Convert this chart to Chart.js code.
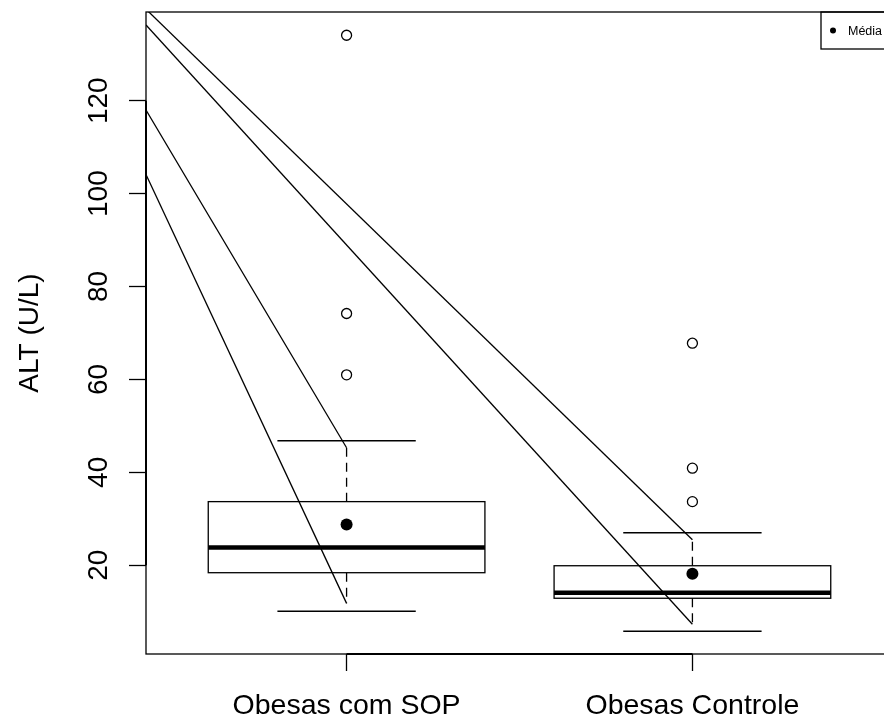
<!DOCTYPE html>
<html>
<head>
<meta charset="utf-8">
<title>ALT (U/L)</title>
<script src="https://cdn.jsdelivr.net/npm/chart.js@4/dist/chart.umd.min.js"></script>
<style>
    html, body { margin: 0; padding: 0; background: #fff; overflow: hidden; }
    #wrap { position: relative; width: 900px; height: 725px; }
</style>
</head>
<body>
<div id="wrap"><canvas id="altChart"></canvas></div>
<script>
// Groups on the x axis
const categories = ['Obesas com SOP', 'Obesas Controle'];

// Box statistics per group (U/L)
const q1 = [18.4, 12.9];
const medians = [23.8, 14.1];
const q3 = [33.7, 19.9];
const whiskerLow = [10.1, 5.8];
const whiskerHigh = [46.8, 27.0];
const whiskerDashLow = [11.8, 7.3];
const whiskerDashHigh = [45.3, 25.5];
const means = [28.8, 18.2];

// Outliers per group
const outliersSop = [61.0, 74.2, 134.1];
const outliersControle = [33.7, 40.9, 67.8];

// Straight segments from the left edge down to the whisker ends
const diagStartY = [139.7, 136.3, 118.0, 104.1];
const diagEndX = [2, 2, 1, 1];
const diagEndY = [25.5, 7.3, 45.3, 11.8];

const yTicks = [20, 40, 60, 80, 100, 120];
const meanLabel = 'Média';
const yTitle = 'ALT (U/L)';

const X_MIN = 0.42, X_MAX = 2.58;
const Y_MIN = 0.9, Y_MAX = 139.1;
const BOX_HALF = 0.4, CAP_HALF = 0.2;
const FONT = '"Liberation Sans", Arial, Helvetica, sans-serif';

const outlierGroups = [outliersSop, outliersControle];

const diagSets = diagStartY.map((y0, i) => ({
    type: 'line',
    data: [{ x: X_MIN, y: y0 }, { x: diagEndX[i], y: diagEndY[i] }],
    borderColor: '#000',
    borderWidth: 1.3,
    pointRadius: 0,
    showLine: true,
    fill: false
}));

const outlierSet = {
    type: 'scatter',
    data: outlierGroups.flatMap((vals, i) => vals.map(v => ({ x: i + 1, y: v }))),
    pointStyle: 'circle',
    pointRadius: 5,
    pointBorderWidth: 1.3,
    borderColor: '#000',
    backgroundColor: 'rgba(0,0,0,0)'
};

const meanSet = {
    type: 'scatter',
    data: means.map((v, i) => ({ x: i + 1, y: v })),
    pointStyle: 'circle',
    pointRadius: 6,
    pointBorderWidth: 0,
    borderColor: '#000',
    backgroundColor: '#000'
};

// Boxes, whiskers, frame, rotated y labels and the legend
const boxPlugin = {
    id: 'boxes',
    beforeDatasetsDraw(chart) {
        const { ctx, scales: { x, y } } = chart;
        ctx.save();
        ctx.strokeStyle = '#000';
        categories.forEach((c, i) => {
            const cx = x.getPixelForValue(i + 1);
            const l = x.getPixelForValue(i + 1 - BOX_HALF);
            const r = x.getPixelForValue(i + 1 + BOX_HALF);
            const cl = x.getPixelForValue(i + 1 - CAP_HALF);
            const cr = x.getPixelForValue(i + 1 + CAP_HALF);

            // dashed whiskers
            ctx.lineWidth = 1.3;
            ctx.setLineDash([9, 6]);
            ctx.beginPath();
            ctx.moveTo(cx, y.getPixelForValue(q3[i]));
            ctx.lineTo(cx, y.getPixelForValue(whiskerDashHigh[i]));
            ctx.moveTo(cx, y.getPixelForValue(q1[i]));
            ctx.lineTo(cx, y.getPixelForValue(whiskerDashLow[i]));
            ctx.stroke();
            ctx.setLineDash([]);

            // caps
            ctx.beginPath();
            [whiskerHigh[i], whiskerLow[i]].forEach(v => {
                const py = y.getPixelForValue(v);
                ctx.moveTo(cl, py);
                ctx.lineTo(cr, py);
            });
            ctx.stroke();

            // box
            const top = y.getPixelForValue(q3[i]);
            const bot = y.getPixelForValue(q1[i]);
            ctx.strokeRect(l, top, r - l, bot - top);

            // median
            ctx.lineWidth = 4.5;
            ctx.beginPath();
            const my = y.getPixelForValue(medians[i]);
            ctx.moveTo(l, my);
            ctx.lineTo(r, my);
            ctx.stroke();
        });
        ctx.restore();
    },
    afterDraw(chart) {
        const { ctx, chartArea: a, scales: { x, y } } = chart;
        ctx.save();
        ctx.strokeStyle = '#000';
        ctx.fillStyle = '#000';

        // plot frame
        ctx.lineWidth = 1.3;
        ctx.strokeRect(a.left, a.top, a.right - a.left, a.bottom - a.top);

        // axis lines between first and last tick
        ctx.lineWidth = 2;
        ctx.beginPath();
        ctx.moveTo(a.left, y.getPixelForValue(yTicks[0]));
        ctx.lineTo(a.left, y.getPixelForValue(yTicks[yTicks.length - 1]));
        ctx.moveTo(x.getPixelForValue(1), a.bottom);
        ctx.lineTo(x.getPixelForValue(categories.length), a.bottom);
        ctx.stroke();

        // y tick labels, parallel to the axis
        ctx.font = '28px ' + FONT;
        ctx.textAlign = 'center';
        ctx.textBaseline = 'alphabetic';
        yTicks.forEach(v => {
            ctx.save();
            ctx.translate(a.left - 39, y.getPixelForValue(v));
            ctx.rotate(-Math.PI / 2);
            ctx.fillText(String(v), 0, 0);
            ctx.restore();
        });

        // legend in the top right corner
        const lw = 72, lh = 37;
        ctx.lineWidth = 1.3;
        ctx.strokeRect(a.right - lw, a.top, lw, lh);
        ctx.beginPath();
        ctx.arc(a.right - lw + 12, a.top + lh / 2, 3, 0, Math.PI * 2);
        ctx.fill();
        ctx.font = '12.5px ' + FONT;
        ctx.textAlign = 'left';
        ctx.textBaseline = 'middle';
        ctx.fillText(meanLabel, a.right - lw + 27, a.top + lh / 2 + 1);
        ctx.restore();
    }
};

const tickGrid = {
    drawOnChartArea: false,
    drawTicks: true,
    tickLength: 17,
    tickWidth: 1.3,
    tickColor: '#000',
    color: '#000'
};

new Chart(document.getElementById('altChart'), {
    type: 'scatter',
    data: { datasets: [...diagSets, outlierSet, meanSet] },
    options: {
        responsive: true,
        maintainAspectRatio: false,
        animation: false,
        layout: { padding: { top: 12, right: 7, left: 0, bottom: 0 } },
        plugins: {
            legend: { display: false },
            tooltip: { enabled: false }
        },
        scales: {
            x: {
                type: 'linear',
                min: X_MIN,
                max: X_MAX,
                afterBuildTicks: s => { s.ticks = categories.map((c, i) => ({ value: i + 1 })); },
                afterFit: s => { s.height = 71; },
                ticks: {
                    autoSkip: false,
                    maxRotation: 0,
                    padding: 18,
                    color: '#000',
                    font: { family: FONT, size: 28.5 },
                    callback: v => categories[Math.round(v) - 1]
                },
                grid: tickGrid,
                border: { display: false }
            },
            y: {
                type: 'linear',
                min: Y_MIN,
                max: Y_MAX,
                afterBuildTicks: s => { s.ticks = yTicks.map(v => ({ value: v })); },
                afterFit: s => { s.width = 146; },
                ticks: { display: false },
                grid: tickGrid,
                border: { display: false },
                title: {
                    display: true,
                    text: yTitle,
                    color: '#000',
                    font: { family: FONT, size: 28 },
                    padding: { top: 13, bottom: 0 }
                }
            }
        }
    },
    plugins: [boxPlugin]
});
</script>
</body>
</html>
